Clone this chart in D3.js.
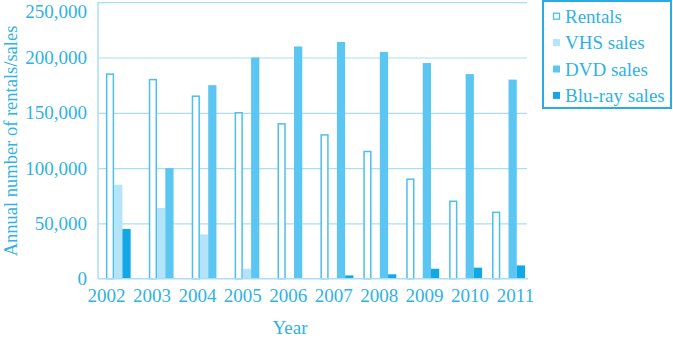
<!DOCTYPE html>
<html>
<head>
<meta charset="utf-8">
<script src="https://cdn.jsdelivr.net/npm/d3@7"></script>
<style>
  body { margin: 0; background: #fff; }
  text { font-family: "Liberation Serif", "Times New Roman", serif; fill: #2fb2e4; }
</style>
</head>
<body>
<svg width="673" height="338"></svg>
<script>
const years = ['2002', '2003', '2004', '2005', '2006', '2007', '2008', '2009', '2010', '2011'];
const seriesNames = ['Rentals', 'VHS sales', 'DVD sales', 'Blu-ray sales'];
const rentals = [185000, 180000, 165000, 150000, 140000, 130000, 115000, 90000, 70000, 60000];
const vhsSales = [85000, 64000, 40000, 9000, 0, 0, 0, 0, 0, 0];
const dvdSales = [45000, 100000, 175000, 200000, 210000, 214000, 205000, 195000, 185000, 180000];
const blurSales = [0, 0, 0, 0, 0, 3000, 4000, 9000, 10000, 12000];
const yTicks = [0, 50000, 100000, 150000, 200000, 250000];

const colors = {
  'Rentals': '#4cbfee',
  'VHS sales': '#b3e4f9',
  'DVD sales': '#5cc6f2',
  'Blu-ray sales': '#12a8e6',
};
const gridColor = '#a9def6';

const table = years.map((year, i) => ({
  year,
  values: [rentals[i], vhsSales[i], dvdSales[i], blurSales[i]],
}));

const svg = d3.select('svg');
const plotLeft = 98;
const plotRight = 527;
const plotTop = 2.2;
const plotBottom = 278.7;

const y = d3.scaleLinear().domain([0, 250000]).range([plotBottom, plotTop]);
const x0 = d3.scaleBand().domain(years).range([plotLeft, plotRight])
  .paddingInner(0.231).paddingOuter(0.115).align(0.8);
const x1 = d3.scaleBand().domain(seriesNames).range([0, x0.bandwidth()]);
// labels in the original sit a little wider apart than the bars
const xLabel = d3.scalePoint().domain(years).range([106, 515]);

// grid
svg.append('g')
  .attr('transform', `translate(${plotLeft},0)`)
  .call(d3.axisLeft(y).tickValues(yTicks.slice(1)).tickSize(-(plotRight - plotLeft)).tickFormat(''))
  .call(g => g.select('.domain').remove())
  .call(g => g.selectAll('line').attr('stroke', gridColor).attr('stroke-width', 1.2));

// bars
const groups = svg.append('g').selectAll('g')
  .data(table)
  .join('g')
  .attr('transform', d => `translate(${x0(d.year)},0)`);

groups.selectAll('rect')
  .data(d => d.values.map((v, j) => ({ key: seriesNames[j], value: v, year: d.year })).filter(e => e.value > 0))
  .join('rect')
  .attr('x', d => (d.key === 'Rentals' ? x1(d.key) + 0.75 : x1(d.key)))
  .attr('width', d => (d.key === 'Rentals' ? x1.bandwidth() - 1.5 : x1.bandwidth()))
  .attr('y', d => y(d.value))
  .attr('height', d => y(0) - y(d.value))
  .attr('fill', (d) => {
    if (d.key === 'Rentals') return '#fff';
    // the original draws the 2002 DVD bar in the Blu-ray shade
    if (d.key === 'DVD sales' && d.year === '2002') return colors['Blu-ray sales'];
    return colors[d.key];
  })
  .attr('stroke', d => (d.key === 'Rentals' ? colors.Rentals : 'none'))
  .attr('stroke-width', 1.5);

// axis lines
svg.append('line')
  .attr('x1', plotLeft).attr('x2', plotLeft).attr('y1', plotTop).attr('y2', plotBottom)
  .attr('stroke', gridColor).attr('stroke-width', 1.5);
svg.append('line')
  .attr('x1', plotLeft).attr('x2', plotRight + 1).attr('y1', plotBottom).attr('y2', plotBottom)
  .attr('stroke', gridColor).attr('stroke-width', 1.5);

// y tick labels
svg.append('g')
  .attr('transform', `translate(${plotLeft},0)`)
  .call(d3.axisLeft(y).tickValues(yTicks).tickSize(0).tickPadding(11).tickFormat(d3.format(',')))
  .call(g => g.select('.domain').remove())
  .call(g => g.selectAll('text').attr('fill', null).style('font-size', '19px')
    .style('font-family', '"Liberation Serif", serif'))
  // top label is nudged down so it stays on the page
  .call(g => g.selectAll('.tick').filter(d => d === 250000).select('text').attr('y', 9));

// x tick labels
svg.append('g')
  .attr('transform', `translate(0,${plotBottom})`)
  .call(d3.axisBottom(xLabel).tickSize(0).tickPadding(9.5))
  .call(g => g.select('.domain').remove())
  .call(g => g.selectAll('text').attr('fill', null).style('font-size', '19px')
    .style('font-family', '"Liberation Serif", serif'));

// titles
svg.append('text')
  .attr('x', 290).attr('y', 334)
  .attr('text-anchor', 'middle')
  .style('font-size', '19px')
  .text('Year');

svg.append('text')
  .attr('transform', 'translate(16.5,141) rotate(-90)')
  .attr('text-anchor', 'middle')
  .style('font-size', '18.5px')
  .text('Annual number of rentals/sales');

// legend
const legend = svg.append('g');
legend.append('rect')
  .attr('x', 543).attr('y', 1).attr('width', 128).attr('height', 107)
  .attr('fill', '#fff').attr('stroke', '#2aace3').attr('stroke-width', 2);

const items = legend.selectAll('g.item')
  .data(seriesNames)
  .join('g')
  .attr('class', 'item')
  .attr('transform', (d, i) => `translate(0,${22.7 + i * 26.4})`);

items.append('rect')
  .attr('x', d => (d === 'Rentals' ? 553.5 : 553))
  .attr('y', d => (d === 'Rentals' ? -9.5 : -10))
  .attr('width', d => (d === 'Rentals' ? 6 : 7))
  .attr('height', d => (d === 'Rentals' ? 6 : 7))
  .attr('fill', d => (d === 'Rentals' ? '#fff' : colors[d]))
  .attr('stroke', d => (d === 'Rentals' ? colors.Rentals : 'none'))
  .attr('stroke-width', 1.3);

items.append('text')
  .attr('x', 565)
  .style('font-size', '19px')
  .text(d => d);
</script>
</body>
</html>
